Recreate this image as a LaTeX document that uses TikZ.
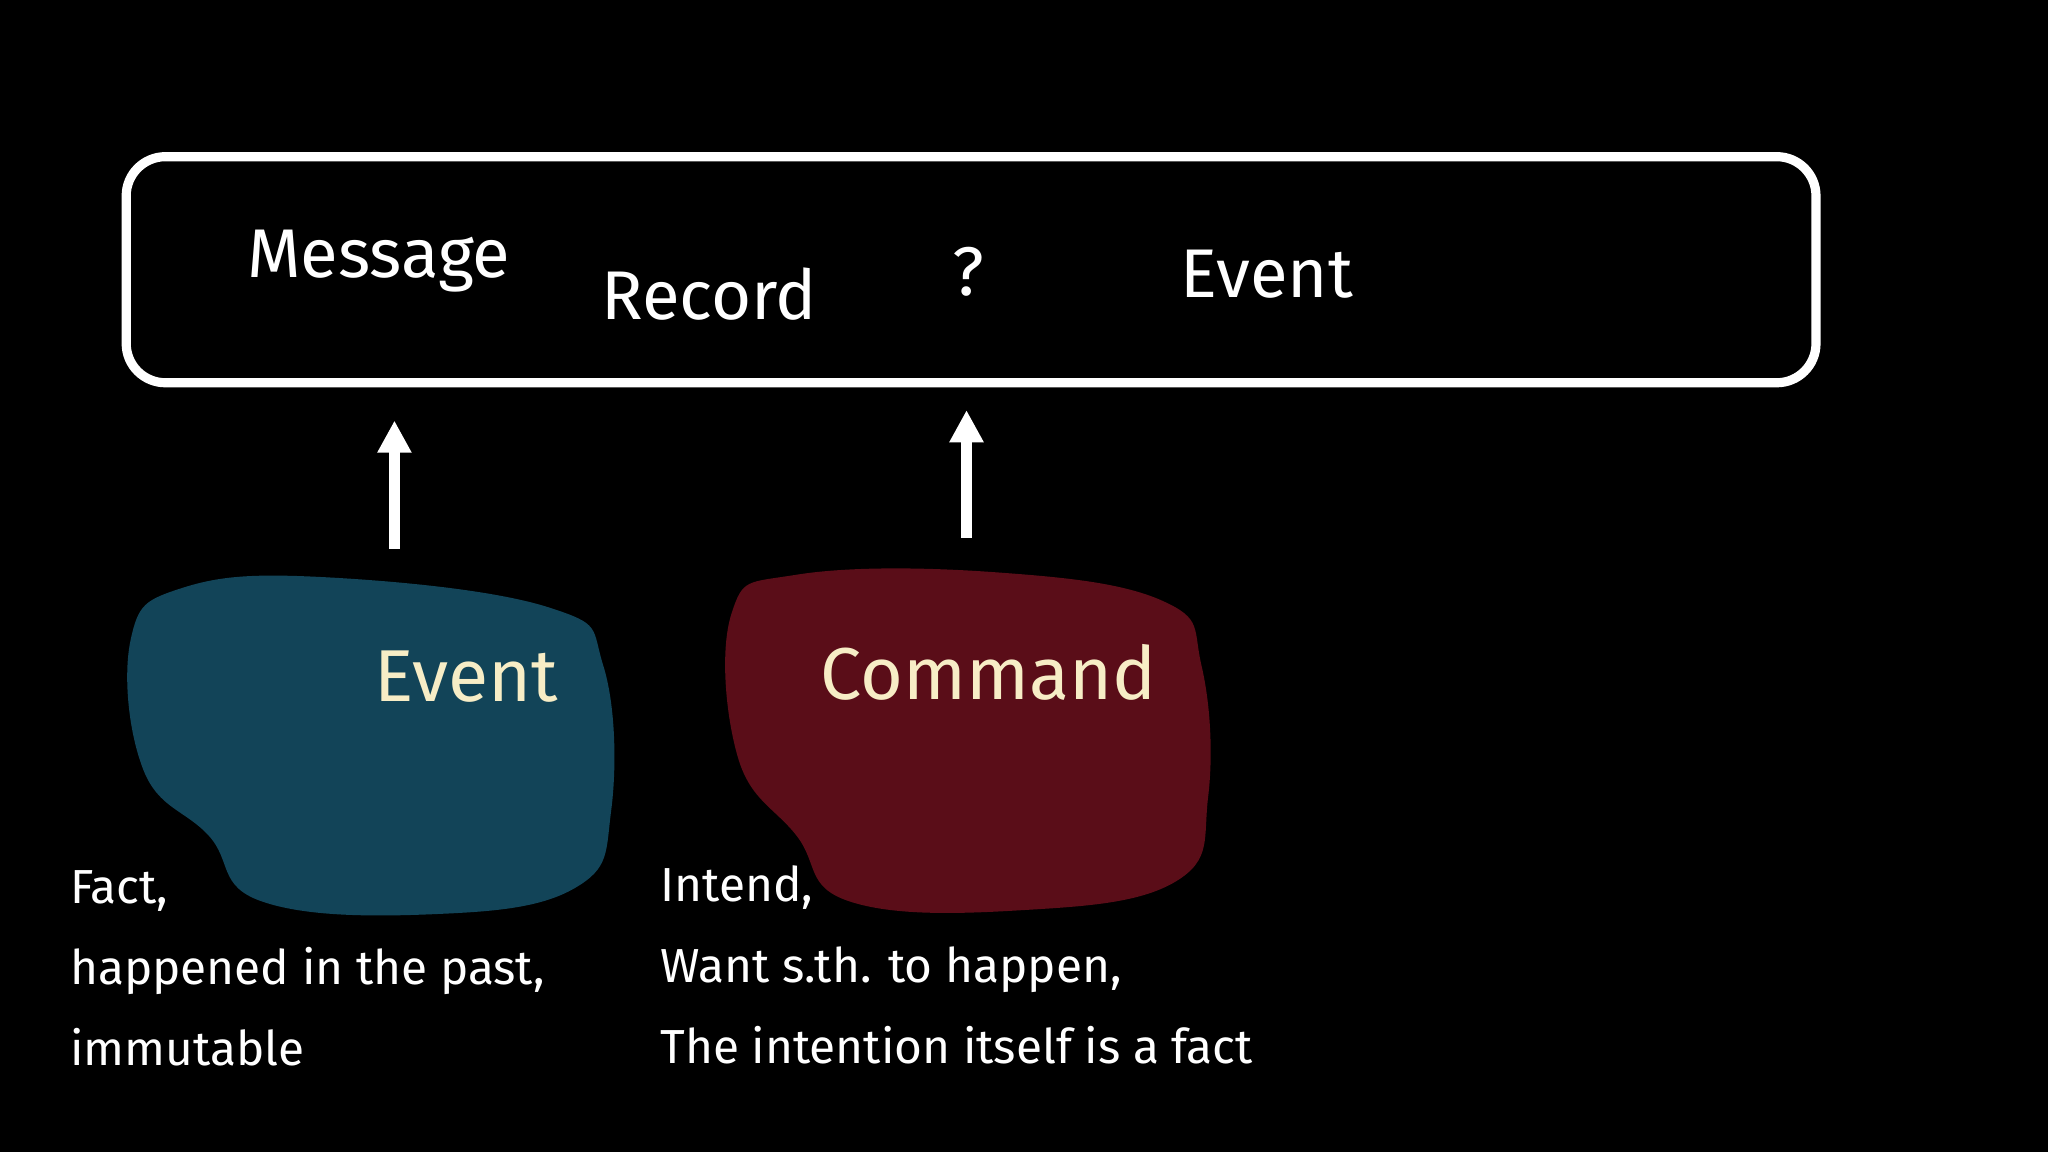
\documentclass[tikz,border=0pt]{standalone}
\usepackage{fontspec}
\setmainfont{Fira Sans}
\begin{document}
\begin{tikzpicture}[x=0.01cm,y=-0.01cm,
  big/.style={text=white,font=\fontsize{15}{18}\selectfont},
  blobtxt/.style={text=cream,font=\fontsize{16}{19}\selectfont},
  desc/.style={text=white,font=\fontsize{10.4}{17.6}\selectfont,align=left,anchor=north west,inner sep=0pt},
  arr/.style={white,line width=2.2pt,-{Triangle[width=7pt,length=7pt]}}]
\usetikzlibrary{arrows.meta}
\definecolor{cream}{HTML}{F7EDC6}
\definecolor{blobblue}{HTML}{124458}
\definecolor{blobred}{HTML}{5A0D18}
\fill[black] (0,0) rectangle (1568,882);
\useasboundingbox (0,0) rectangle (1568,882);
\node[draw=white,line width=2pt,rounded corners=0.3cm,minimum width=12.93cm,minimum height=1.73cm] (box) at (743.5,206.5) {};
\node[big] (msg) at (290,200) {Message};
\node[big] (rec) at (543,225) {Record};
\node[big] (q) at (741,208) {?};
\node[big] (evt) at (970,210) {Event};
\fill[blobblue] plot[smooth cycle,tension=0.7] coordinates {(100,490) (140,450) (250,442) (420,465) (462,510) (468,620) (440,680) (330,700) (200,690) (160,640) (110,590)};
\fill[blobred] plot[smooth cycle,tension=0.7] coordinates {(560,470) (610,440) (760,438) (890,460) (920,510) (925,610) (900,675) (780,697) (650,690) (610,640) (565,580)};
\node[blobtxt] (ev2) at (357,518) {Event};
\node[blobtxt] (cmd) at (757,515) {Command};
\coordinate (a1) at (302,420); \coordinate (a2) at (740,412);
\draw[arr] (a1) -- (302,322);
\draw[arr] (a2) -- (740,314);
\node[desc] (d1) at (53,666) {Fact,\\happened in the past,\\immutable};
\node[desc] (d2) at (505,662) {Intend,\\Want s.th. to happen,\\The intention itself is a fact};
\end{tikzpicture}
\end{document}
